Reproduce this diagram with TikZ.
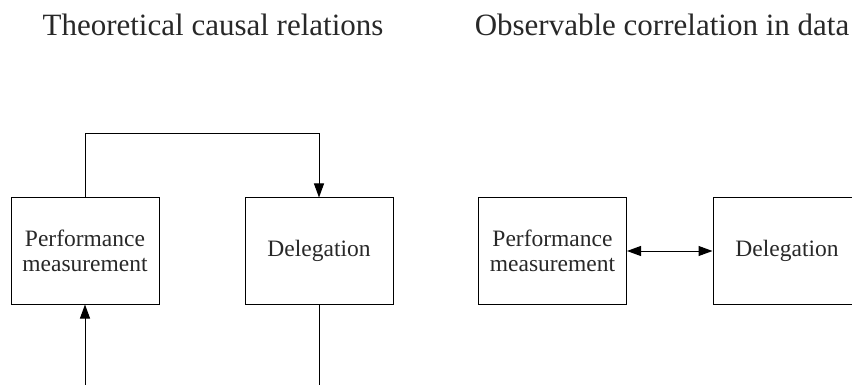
\documentclass[tikz,border=0pt]{standalone}
\usepackage{fontspec}
\setmainfont{Liberation Serif}
\usetikzlibrary{arrows.meta}
\definecolor{txt}{RGB}{40,40,40}
\begin{document}
\begin{tikzpicture}[x=1pt,y=-1pt,
  box/.style={draw=black,line width=1pt,rectangle,minimum width=148pt,minimum height=106pt,inner sep=0pt,align=center,text=txt,font=\fontsize{23.5pt}{25pt}\selectfont},
  title/.style={text=txt,anchor=base,font=\fontsize{31pt}{33pt}\selectfont,inner sep=0pt},
  conn/.style={line width=1pt,draw=black},
  tip/.style={-{Triangle[length=14pt,width=10pt]}}
]
\useasboundingbox (0,0) rectangle (852,385);
\node[title] (t1) at (213,36) {Theoretical causal relations};
\node[title] (t2) at (662,36) {Observable correlation in data};
\node[box] (pm1) at (85,251) {Performance\\measurement};
\node[box] (de1) at (319,251) {Delegation};
\node[box] (pm2) at (552.5,251) {Performance\\measurement};
\node[box] (de2) at (787,251) {Delegation};
\coordinate (b1) at (85,386);
\coordinate (b2) at (319,386);
\draw[conn,tip] (pm1.north) -- ++(0,-64) -| (de1.north);
\draw[conn,tip] (b1) -- (pm1.south);
\draw[conn] (de1.south) -- (b2);
\draw[conn,{Triangle[length=14pt,width=10pt]}-{Triangle[length=14pt,width=10pt]}] (pm2.east) -- (de2.west);
\end{tikzpicture}
\end{document}
